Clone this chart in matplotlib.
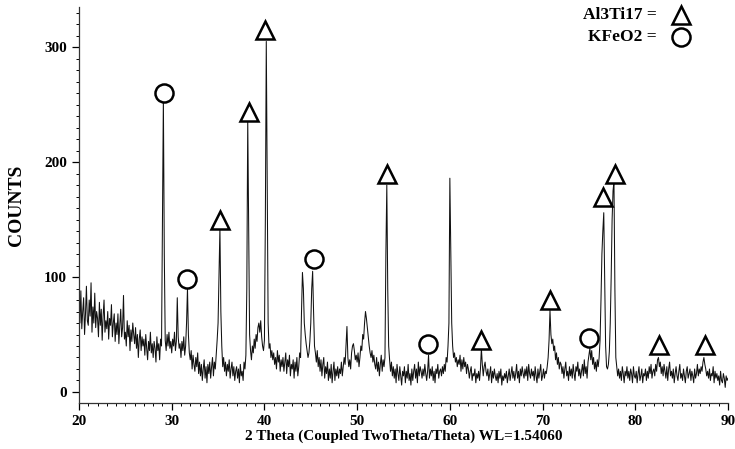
# XRD pattern with Al3Ti17 / KFeO2 peak markers
import numpy as np
import matplotlib
matplotlib.use("Agg")
import matplotlib.pyplot as plt
from matplotlib.ticker import MultipleLocator

# ==================== DATA ====================
# 2-theta sampled every 0.1 deg from 20 to 90
TWO_THETA = np.round(np.arange(20.0, 90.0001, 0.1), 1)

# counts, one row per degree (x.0 ... x.9)
COUNTS = [
    75, 60, 88, 55, 70, 82, 50, 68, 92, 62,      # 20
    58, 80, 66, 95, 52, 74, 60, 86, 56, 70,      # 21
    64, 48, 78, 58, 72, 45, 66, 80, 52, 62,      # 22
    55, 70, 46, 64, 58, 76, 48, 60, 68, 44,      # 23
    60, 50, 68, 42, 58, 72, 48, 56, 84, 46,      # 24
    52, 40, 62, 48, 58, 36, 54, 44, 60, 50,      # 25
    42, 56, 38, 50, 30, 46, 54, 36, 48, 40,      # 26
    46, 32, 50, 38, 28, 44, 36, 52, 34, 42,      # 27
    30, 44, 38, 26, 48, 36, 42, 28, 46, 40,      # 28
    150, 255, 120, 45, 36, 50, 40, 52, 38, 44,   # 29
    34, 46, 40, 52, 36, 44, 82, 48, 38, 42,      # 30
    30, 44, 36, 48, 32, 40, 60, 90, 50, 34,      # 31
    28, 36, 20, 32, 24, 18, 30, 22, 34, 16,      # 32
    26, 14, 24, 10, 20, 28, 12, 22, 8, 24,       # 33
    16, 26, 12, 22, 30, 14, 26, 20, 32, 45,      # 34
    60, 100, 143, 70, 40, 22, 30, 18, 26, 14,    # 35
    24, 18, 28, 12, 20, 26, 14, 22, 10, 18,      # 36
    22, 12, 20, 8, 24, 14, 18, 10, 26, 20,       # 37
    32, 90, 237, 140, 50, 36, 28, 40, 34, 46,    # 38
    38, 50, 44, 56, 60, 52, 62, 48, 40, 36,      # 39
    45, 150, 305, 180, 60, 38, 42, 30, 36, 28,   # 40
    34, 24, 30, 20, 36, 26, 32, 18, 28, 22,      # 41
    30, 18, 26, 34, 16, 28, 22, 32, 14, 24,      # 42
    20, 28, 12, 26, 18, 30, 14, 22, 34, 30,      # 43
    70, 104, 90, 60, 50, 42, 36, 30, 34, 44,     # 44
    60, 90, 105, 70, 40, 34, 26, 36, 22, 30,     # 45
    18, 28, 14, 24, 30, 12, 22, 16, 26, 10,      # 46
    20, 12, 24, 8, 18, 26, 10, 20, 14, 22,       # 47
    12, 20, 16, 26, 14, 22, 30, 24, 40, 57,      # 48
    30, 22, 28, 20, 34, 40, 42, 36, 28, 32,      # 49
    26, 34, 22, 30, 40, 36, 50, 46, 60, 70,      # 50
    64, 56, 48, 40, 34, 30, 36, 26, 32, 24,      # 51
    20, 30, 18, 26, 14, 24, 32, 18, 28, 22,      # 52
    30, 120, 180, 90, 40, 28, 18, 26, 14, 22,    # 53
    12, 20, 8, 24, 16, 10, 22, 14, 6, 18,        # 54
    14, 22, 8, 18, 12, 24, 10, 16, 6, 20,        # 55
    10, 18, 24, 12, 20, 8, 26, 14, 22, 18,       # 56
    12, 20, 14, 24, 16, 10, 18, 32, 12, 20,      # 57
    14, 22, 10, 18, 8, 20, 16, 24, 12, 18,       # 58
    20, 14, 22, 16, 24, 18, 30, 26, 40, 60,      # 59
    186, 120, 60, 40, 30, 34, 26, 30, 22, 28,    # 60
    24, 32, 18, 28, 20, 30, 22, 26, 16, 24,      # 61
    20, 12, 18, 22, 10, 16, 14, 20, 8, 16,       # 62
    12, 18, 10, 20, 38, 24, 14, 22, 26, 18,      # 63
    14, 20, 10, 16, 22, 8, 18, 12, 20, 14,       # 64
    10, 16, 8, 18, 12, 20, 6, 14, 10, 16,        # 65
    12, 18, 8, 14, 20, 10, 16, 22, 12, 18,       # 66
    10, 16, 24, 12, 18, 8, 20, 14, 22, 16,       # 67
    12, 20, 14, 22, 10, 24, 16, 12, 20, 14,      # 68
    18, 10, 22, 14, 8, 20, 12, 18, 24, 10,       # 69
    14, 20, 12, 18, 16, 22, 30, 45, 71, 50,      # 70
    42, 46, 36, 40, 28, 34, 24, 30, 20, 26,      # 71
    24, 16, 22, 12, 20, 26, 14, 18, 10, 22,      # 72
    14, 20, 12, 24, 16, 10, 22, 18, 26, 14,      # 73
    20, 12, 18, 24, 14, 28, 16, 22, 12, 26,      # 74
    32, 38, 28, 36, 24, 30, 20, 26, 18, 28,      # 75
    22, 30, 45, 80, 120, 140, 156, 100, 40, 22,  # 76
    20, 24, 35, 60, 100, 150, 175, 183, 90, 30,  # 77
    22, 14, 20, 12, 18, 10, 22, 16, 8, 18,       # 78
    14, 22, 12, 18, 10, 20, 16, 8, 22, 14,       # 79
    12, 18, 8, 16, 22, 10, 14, 20, 8, 16,        # 80
    14, 20, 10, 18, 12, 22, 16, 24, 12, 18,      # 81
    20, 14, 24, 18, 28, 30, 22, 26, 16, 22,      # 82
    14, 24, 18, 12, 22, 10, 20, 26, 14, 18,      # 83
    12, 20, 8, 16, 22, 14, 10, 18, 24, 12,       # 84
    16, 10, 20, 14, 8, 18, 22, 12, 16, 20,       # 85
    10, 18, 14, 8, 20, 12, 16, 24, 14, 20,       # 86
    16, 22, 18, 26, 30, 24, 20, 14, 18, 12,      # 87
    20, 10, 16, 14, 22, 8, 18, 12, 16, 10,       # 88
    14, 6, 18, 10, 8, 16, 12, 4, 14, 10,         # 89
    12,                                          # 90
]

# phase markers (position, height of symbol)
AL3TI17_X = [35.2, 38.3, 40.1, 53.2, 63.4, 70.8, 76.5, 77.8, 82.6, 87.5]
AL3TI17_Y = [150, 244, 315, 190, 45, 80, 170, 190, 41, 41]
KFEO2_X = [29.15, 31.7, 45.3, 57.6, 75.0]
KFEO2_Y = [260, 98, 116, 42, 47]

LEGEND_LABELS = ["Al3Ti17 =", "KFeO2 ="]
# ==============================================

plt.rcParams['font.family'] = ['Liberation Serif', 'DejaVu Serif']
plt.rcParams['font.weight'] = 'bold'

fig = plt.figure(figsize=(7.35, 4.49), dpi=100)
ax = fig.add_axes([79 / 735, 1 - 403 / 449, 649 / 735, 396 / 449])

ax.plot(TWO_THETA, COUNTS, color='#111111', lw=0.75)

mk = dict(ls='none', mfc='white', mec='black', mew=1.8, ms=13, clip_on=False)
ax.plot(AL3TI17_X, AL3TI17_Y, marker='^', **mk)
ax.plot(KFEO2_X, KFEO2_Y, marker='o', **mk)

# legend in the top right corner
for i, (lab, m) in enumerate(zip(LEGEND_LABELS, ['^', 'o'])):
    yy = 1 - (15 + 22 * i) / 449
    fig.text(657 / 735, yy, lab, ha='right', va='center', fontsize=12.5,
             fontweight='bold')
    fig.lines.append(plt.Line2D([681 / 735], [yy], marker=m, transform=fig.transFigure,
                                **{k: v for k, v in mk.items() if k != 'clip_on'}))

ax.set_xlim(20, 90)
ax.set_ylim(-9.6, 335)

ax.xaxis.set_major_locator(MultipleLocator(10))
ax.xaxis.set_minor_locator(MultipleLocator(1))
ax.yaxis.set_major_locator(MultipleLocator(100))
ax.yaxis.set_minor_locator(MultipleLocator(10))
ax.tick_params(which='major', direction='out', length=5, width=0.9, labelsize=11)
ax.tick_params(which='minor', direction='out', length=2.5, width=0.7)
for lab in ax.get_xticklabels() + ax.get_yticklabels():
    lab.set_fontweight('bold')

for s in ['top', 'right']:
    ax.spines[s].set_visible(False)
for s in ['left', 'bottom']:
    ax.spines[s].set_linewidth(0.9)
    ax.spines[s].set_color('#333333')

ax.set_xlabel('2 Theta (Coupled TwoTheta/Theta) WL=1.54060', fontsize=11,
              fontweight='bold', labelpad=1)
ax.set_ylabel('COUNTS', fontsize=14, fontweight='bold', labelpad=14)

fig.savefig('out.png', dpi=100)
